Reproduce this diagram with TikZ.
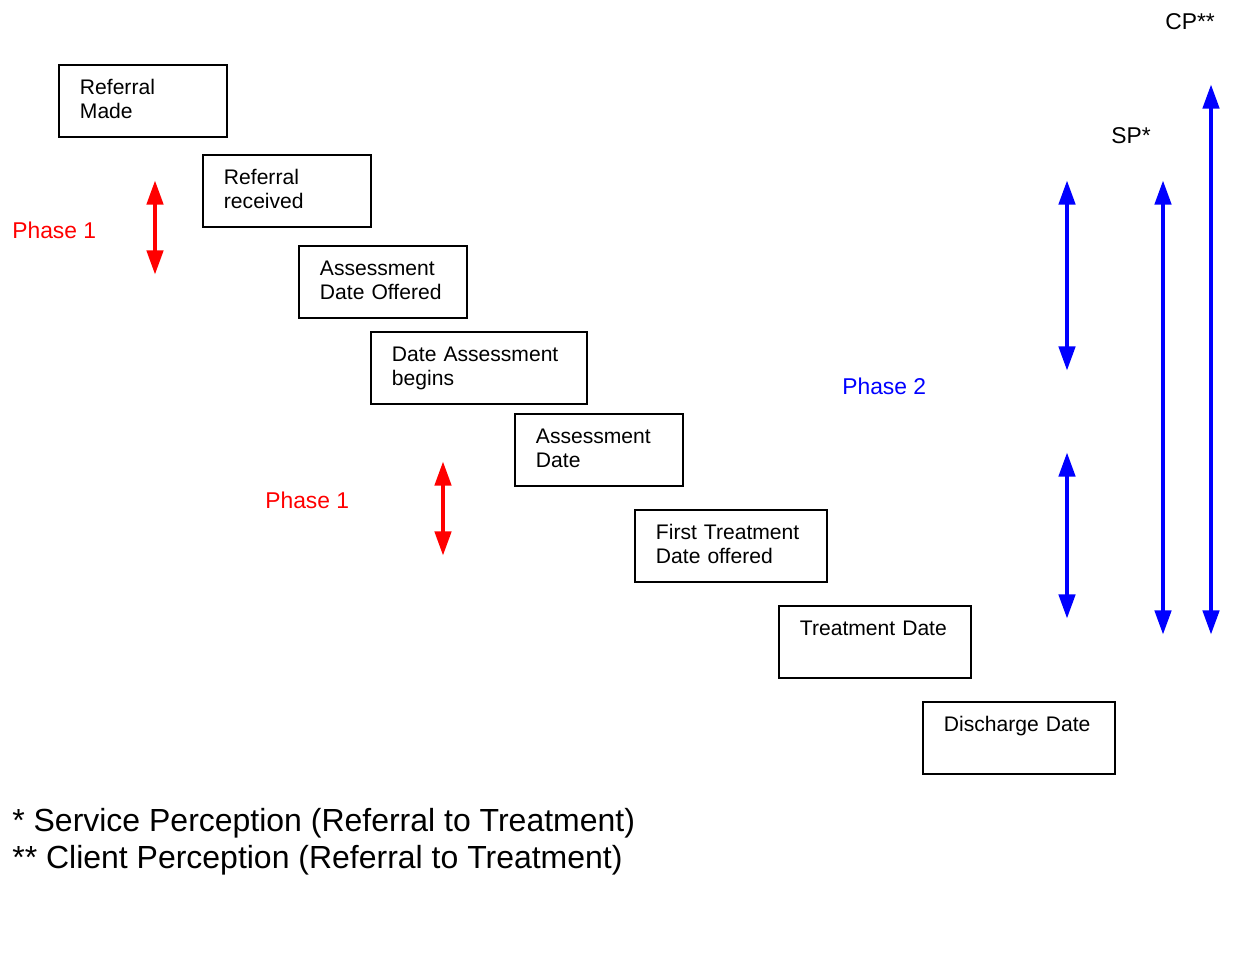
\documentclass[tikz,border=0pt]{standalone}
\usepackage{fontspec}
\setmainfont{Liberation Sans}
\usetikzlibrary{arrows.meta}
\tikzset{
 bx/.style={draw,line width=1.1pt,anchor=north west,inner xsep=0.42cm,inner ysep=0pt,
  text width=#1,text height=0.6cm,text depth=0.84cm,align=left,font=\fontsize{12}{13.6}\selectfont},
 lb/.style={anchor=base west,inner sep=0pt,font=\fontsize{13}{15}\selectfont},
 ft/.style={anchor=base west,inner sep=0pt,font=\fontsize{18.2}{21}\selectfont},
 ph/.style={line width=2.8pt,{Triangle[width=9pt,length=14pt]}-{Triangle[width=9pt,length=14pt]}}}
\begin{document}
\begin{tikzpicture}[x=0.02cm,y=-0.02cm]
 \useasboundingbox (0,0) rectangle (1256,954);
 % the stages
 \node[bx=2.52cm] (made) at (58,64) {Referral\\Made};
 \node[bx=2.52cm] (recv) at (202,154) {Referral\\received};
 \node[bx=2.52cm] (offr) at (298,245) {Assessment\\Date Offered};
 \node[bx=3.48cm] (begn) at (370,331) {Date Assessment\\begins};
 \node[bx=2.52cm] (asmt) at (514,413) {Assessment\\Date};
 \node[bx=3.0cm] (ftdo) at (634,509) {First Treatment\\Date offered};
 \node[bx=3.0cm] (trtd) at (778,605) {Treatment Date};
 \node[bx=3.0cm] (disc) at (922,701) {Discharge Date};
 % arrow ends
 \coordinate (r1a) at (155,180); \coordinate (r1b) at (155,275);
 \coordinate (r2a) at (443,461); \coordinate (r2b) at (443,556);
 \coordinate (b1a) at (1067,180); \coordinate (b1b) at (1067,371);
 \coordinate (b2a) at (1067,452); \coordinate (b2b) at (1067,619);
 \coordinate (spa) at (1163,180); \coordinate (spb) at (1163,635);
 \coordinate (cpa) at (1211,84); \coordinate (cpb) at (1211,635);
 \draw[ph,red] (r1a)--(r1b);
 \draw[ph,red] (r2a)--(r2b);
 \draw[ph,blue] (b1a)--(b1b);
 \draw[ph,blue] (b2a)--(b2b);
 \draw[ph,blue] (spa)--(spb);
 \draw[ph,blue] (cpa)--(cpb);
 % labels
 \node[lb,text=red] (pha) at (12,238) {Phase 1};
 \node[lb,text=red] (phb) at (265,508) {Phase 1};
 \node[lb,text=blue] (phc) at (842,394) {Phase 2};
 \node[lb] (sp) at (1111,143) {SP*};
 \node[lb] (cp) at (1165,29) {CP**};
 \node[ft] (fta) at (12,831) {* Service Perception (Referral to Treatment)};
 \node[ft] (ftb) at (12,868) {** Client Perception (Referral to Treatment)};
\end{tikzpicture}
\end{document}
